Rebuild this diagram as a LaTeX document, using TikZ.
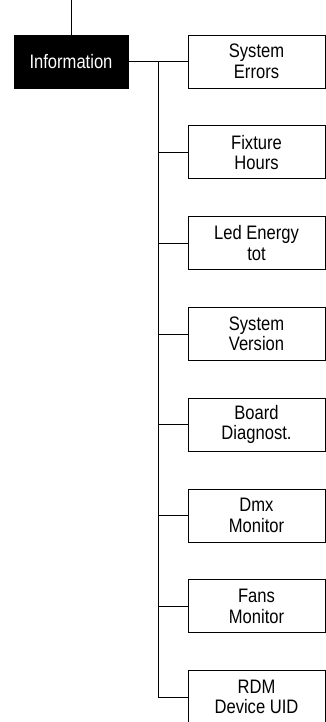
\documentclass[tikz,border=0pt]{standalone}
\usepackage{fontspec}
\setmainfont{Liberation Sans}[FakeStretch=0.85]
\usetikzlibrary{positioning}

\begin{document}
\begin{tikzpicture}[x=1pt,y=-1pt,line width=0.8pt,
  menubox/.style={draw,fill=white,minimum width=137pt,minimum height=53pt,
    align=center,inner sep=0pt,font=\fontsize{19.5}{20.5}\selectfont},
  rootbox/.style={draw,fill=black,text=white,minimum width=114pt,minimum height=53pt,
    inner sep=0pt,font=\fontsize{19.5}{20.5}\selectfont}]
  \useasboundingbox (0,0) rectangle (326,722);
  \node[rootbox] (info) at (71,61.5) {Information};
  \coordinate (top) at (71,0);
  \draw (top)--(info.north);
  \coordinate (split) at (158,61.5);
  \foreach \i/\txt in {1/System\\Errors,2/Fixture\\Hours,3/Led Energy\\tot,
      4/System\\Version,5/Board\\Diagnost.,6/Dmx\\Monitor,7/Fans\\Monitor,
      8/RDM\\Device UID}{
    \node[menubox] (sub\i) at (256.5,{61.5+90.8*(\i-1)}) {\txt};
    \draw (sub\i.west)--(split|-sub\i.west);
  }
  \draw (info.east)--(split);
  \draw (split)--(split|-sub8.west);
\end{tikzpicture}
\end{document}
